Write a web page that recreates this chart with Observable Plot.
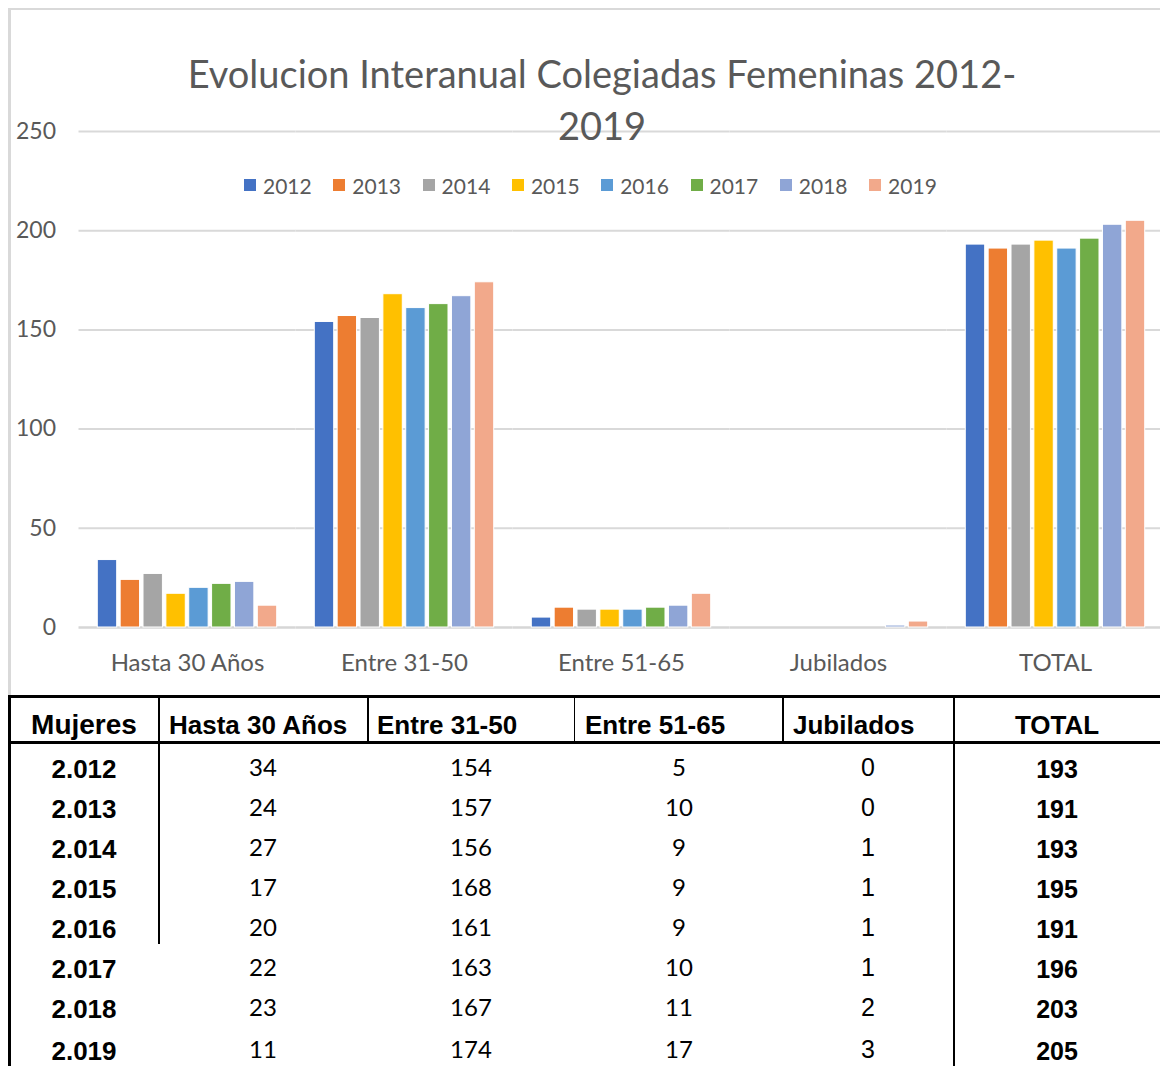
<!DOCTYPE html>
<html><head><meta charset="utf-8">
<script src="https://cdn.jsdelivr.net/npm/d3@7"></script>
<script src="https://cdn.jsdelivr.net/npm/@observablehq/plot@0.6"></script>
<style>
body{margin:0;background:#fff;}
#wrap{position:relative;width:1160px;height:1066px;overflow:hidden;background:#fff;}
#chart{position:absolute;left:0;top:0;}
.abs{position:absolute;white-space:nowrap;line-height:1;}
.ln{position:absolute;background:#000;}
.title{font-family:Lato,sans-serif;font-size:38px;color:#595959;text-align:center;line-height:52px;}
.leg{font-family:Lato,sans-serif;font-size:21px;color:#595959;display:flex;align-items:center;}
.leg i{display:inline-block;width:12px;height:12px;margin-right:7px;}
.hd{font-family:"Liberation Sans",Arial,sans-serif;font-weight:bold;font-size:26px;color:#000;}
.yr{font-family:"Liberation Sans",Arial,sans-serif;font-weight:bold;font-size:26px;color:#000;}
.vc{font-family:Lato,sans-serif;font-size:24px;color:#000;}
.va{font-family:"Liberation Sans",Arial,sans-serif;font-size:25px;color:#000;}
.vb{font-family:"Liberation Sans",Arial,sans-serif;font-weight:bold;font-size:25px;color:#000;}
</style></head>
<body><div id="wrap"></div>
<script>
// ---- data ----
const categories = ["Hasta 30 Años", "Entre 31-50", "Entre 51-65", "Jubilados", "TOTAL"];
const years = [2012, 2013, 2014, 2015, 2016, 2017, 2018, 2019];
const yearLabels = ["2.012", "2.013", "2.014", "2.015", "2.016", "2.017", "2.018", "2.019"];
const colors = ["#4472C4", "#ED7D31", "#A5A5A5", "#FFC000", "#5B9BD5", "#70AD47", "#8FA5D6", "#F2A98B"];
const hasta30 = [34, 24, 27, 17, 20, 22, 23, 11];
const entre3150 = [154, 157, 156, 168, 161, 163, 167, 174];
const entre5165 = [5, 10, 9, 9, 9, 10, 11, 17];
const jubilados = [0, 0, 1, 1, 1, 1, 2, 3];       // table values
const jubiladosChart = [0, 0, 0, 0, 0, 0, 1, 3];  // as drawn in the chart
const total = [193, 191, 193, 195, 191, 196, 203, 205];
const yTicks = [0, 50, 100, 150, 200, 250];
const titleLines = ["Evolucion Interanual Colegiadas Femeninas 2012-", "2019"];
const tableHeader = ["Mujeres", "Hasta 30 Años", "Entre 31-50", "Entre 51-65", "Jubilados", "TOTAL"];

const wrap = document.getElementById("wrap");
function el(cls, html, css) {
  const d = document.createElement("div");
  d.className = cls; d.innerHTML = html || "";
  Object.assign(d.style, css);
  wrap.appendChild(d); return d;
}

// ---- chart ----
const chartSeries = {"Hasta 30 Años": hasta30, "Entre 31-50": entre3150, "Entre 51-65": entre5165, "Jubilados": jubiladosChart, "TOTAL": total};
const rows = categories.flatMap(c => years.map((y, i) => ({category: c, year: String(y), value: chartSeries[c][i]})));

const plot = Plot.plot({
  width: 1160, height: 690,
  marginLeft: 78.5, marginRight: -3.5, marginTop: 131, marginBottom: 63,
  style: {fontFamily: "Lato, sans-serif", color: "#595959", background: "transparent"},
  fx: {domain: categories, padding: 0, label: null, round: false},
  x: {domain: years.map(String), paddingInner: 0.151, paddingOuter: 0.822, axis: null, round: false},
  y: {domain: [0, 250], label: null},
  color: {domain: years.map(String), range: colors},
  marks: [
    Plot.gridY(yTicks.filter(t => t > 0), {stroke: "#d9d9d9", strokeOpacity: 1, strokeWidth: 2}),
    Plot.ruleY([0], {stroke: "#d6d6d6", strokeWidth: 2.5}),
    Plot.barY(rows.filter(d => d.value > 0), {fx: "category", x: "year", y: "value", fill: "year", stroke: "white", strokeWidth: 1}),
    Plot.axisY(yTicks, {tickSize: 0, tickPadding: 23, fontSize: 23, anchor: "left", label: null, fill: "#595959"}),
    Plot.axisFx({tickSize: 0, tickPadding: 26, fontSize: 24, anchor: "bottom", label: null, fill: "#595959"})
  ]
});
plot.id = "chart";
wrap.appendChild(plot);

// frame of the chart area
el("ln", "", {left: "8px", top: "7.5px", width: "1152px", height: "2.5px", background: "#d9d9d9"});
el("ln", "", {left: "8px", top: "7.5px", width: "2.5px", height: "690px", background: "#d9d9d9"});

// title
el("abs title", titleLines.join("<br>"), {left: "0px", width: "1204px", top: "47px"});

// legend
years.forEach((y, i) => {
  el("abs leg", `<i style="background:${colors[i]}"></i>${y}`, {left: (244 + i * 89.3) + "px", top: "174px", height: "22px"});
});

// ---- table ----
el("ln", "", {left: "8px", top: "695px", width: "1152px", height: "3px"});
el("ln", "", {left: "8px", top: "741px", width: "1152px", height: "2.5px"});
el("ln", "", {left: "8px", top: "695px", width: "2.5px", height: "371px"});
el("ln", "", {left: "157.5px", top: "695px", width: "2.2px", height: "249px"});
el("ln", "", {left: "367px", top: "697px", width: "1.6px", height: "45px"});
el("ln", "", {left: "573.5px", top: "697px", width: "1.6px", height: "45px"});
el("ln", "", {left: "782px", top: "697px", width: "1.6px", height: "45px"});
el("ln", "", {left: "952.5px", top: "695px", width: "2.6px", height: "371px"});

// header
const headerLeft = [null, 169, 377, 585, 793, null];
tableHeader.forEach((h, i) => {
  if (i === 0) el("abs hd", h, {left: "9px", width: "150px", textAlign: "center", top: "711px", fontSize: "28px"});
  else if (i === 5) el("abs hd", h, {left: "957px", width: "200px", textAlign: "center", top: "712px"});
  else el("abs hd", h, {left: headerLeft[i] + "px", top: "712px"});
});

// body
const colCenters = [263, 471, 679, 868, 1057];
const tableCols = [hasta30, entre3150, entre5165, jubilados, total];
const colClass = ["vc", "vc", "vc", "va", "vb"];
yearLabels.forEach((lab, r) => {
  const cy = 769 + r * 40 + (r === 7 ? 2 : 0);
  el("abs yr", lab, {left: "9px", width: "150px", textAlign: "center", top: (cy - 13) + "px"});
  tableCols.forEach((col, c) => {
    const off = c < 4 ? -14 : -12;
    el("abs " + colClass[c], String(col[r]), {left: (colCenters[c] - 100) + "px", width: "200px", textAlign: "center", top: (cy + off) + "px"});
  });
});
</script>
</body></html>
